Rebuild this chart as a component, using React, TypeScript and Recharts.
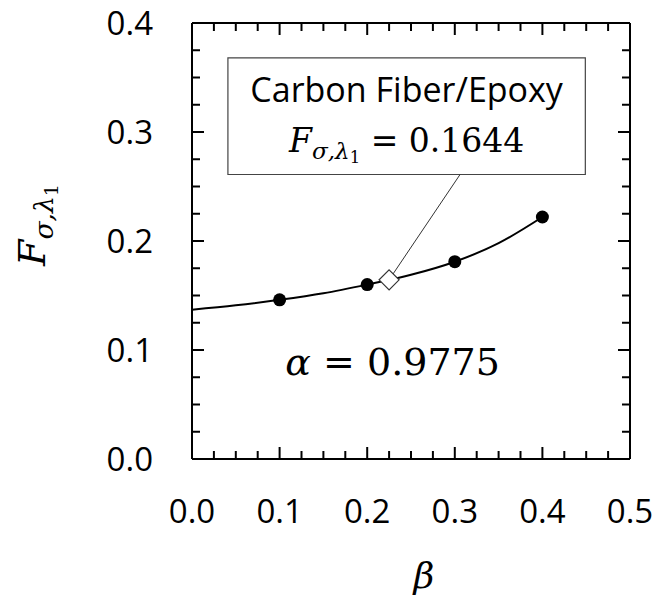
import React from 'react'
import {
  ComposedChart,
  Line,
  Scatter,
  XAxis,
  YAxis,
  ReferenceArea,
  ReferenceLine,
  ReferenceDot,
} from 'recharts'

// fitted curve
const fitBeta = [0, 0.05, 0.1, 0.15, 0.2, 0.25, 0.3, 0.35, 0.4]
const fitF = [0.137, 0.141, 0.146, 0.152, 0.16, 0.169, 0.181, 0.198, 0.222]

// computed points (filled dots)
const pointBeta = [0.1, 0.2, 0.3, 0.4]
const pointF = [0.146, 0.16, 0.181, 0.222]

// carbon fiber / epoxy marker
const markerBeta = [0.225]
const markerF = [0.1644]

const xTicks = [
  0, 0.025, 0.05, 0.075, 0.1, 0.125, 0.15, 0.175, 0.2, 0.225, 0.25,
  0.275, 0.3, 0.325, 0.35, 0.375, 0.4, 0.425, 0.45, 0.475, 0.5,
]
const yTicks = [
  0, 0.025, 0.05, 0.075, 0.1, 0.125, 0.15, 0.175, 0.2, 0.225, 0.25,
  0.275, 0.3, 0.325, 0.35, 0.375, 0.4,
]

const fitData = fitBeta.map((b, i) => ({ beta: b, f: fitF[i] }))
const pointData = pointBeta.map((b, i) => ({ beta: b, f: pointF[i] }))
const markerData = markerBeta.map((b, i) => ({ beta: b, f: markerF[i] }))

const SANS = '"Open Sans", sans-serif'
const SERIF = '"DejaVu Serif", serif'
const MAJOR = 12
const MINOR = 8

const isMajor = (v: number) => Math.abs(v * 10 - Math.round(v * 10)) < 1e-6

const BottomTick = (props: any) => {
  const { x, y, payload } = props
  const major = isMajor(payload.value)
  return (
    <g>
      <line x1={x} x2={x} y1={y} y2={y - (major ? MAJOR : MINOR)} stroke="#000" strokeWidth={2} />
      {major && (
        <text x={x} y={y + 64} textAnchor="middle" fontFamily={SANS} fontSize={33} fill="#000">
          {payload.value.toFixed(1)}
        </text>
      )}
    </g>
  )
}

const TopTick = (props: any) => {
  const { x, y, payload } = props
  const major = isMajor(payload.value)
  return <line x1={x} x2={x} y1={y} y2={y + (major ? MAJOR : MINOR)} stroke="#000" strokeWidth={2} />
}

const LeftTick = (props: any) => {
  const { x, y, payload } = props
  const major = isMajor(payload.value)
  return (
    <g>
      <line x1={x} x2={x + (major ? MAJOR : MINOR)} y1={y} y2={y} stroke="#000" strokeWidth={2} />
      {major && (
        <text x={x - 39} y={y + 12} textAnchor="end" fontFamily={SANS} fontSize={33} fill="#000">
          {payload.value.toFixed(1)}
        </text>
      )}
    </g>
  )
}

const RightTick = (props: any) => {
  const { x, y, payload } = props
  const major = isMajor(payload.value)
  return <line x1={x} x2={x - (major ? MAJOR : MINOR)} y1={y} y2={y} stroke="#000" strokeWidth={2} />
}

const Dot = (p: any) => <circle cx={p.cx} cy={p.cy} r={6.5} fill="#000" />
const NoShape = () => <g />

const Diamond = (p: any) => {
  const s = 10
  return (
    <polygon
      points={`${p.cx},${p.cy - s} ${p.cx + s},${p.cy} ${p.cx},${p.cy + s} ${p.cx - s},${p.cy}`}
      fill="#fff"
      stroke="#333"
      strokeWidth={1.2}
    />
  )
}

// F_{σ,λ1} written with tspans
const FSub = ({ size }: { size: number }) => (
  <>
    <tspan fontStyle="italic">F</tspan>
    <tspan fontStyle="italic" fontSize={size * 0.7} dy={size * 0.22}>σ,λ</tspan>
    <tspan fontSize={size * 0.5} dy={size * 0.12}>1</tspan>
  </>
)

const BoxLabel = (props: any) => {
  const { x, y, width } = props.viewBox
  const cx = x + width / 2
  return (
    <g>
      <text x={cx} y={y + 44} textAnchor="middle" fontFamily={SANS} fontSize={34} fill="#000">
        Carbon Fiber/Epoxy
      </text>
      <text x={cx} y={y + 94} textAnchor="middle" fontFamily={SERIF} fontSize={33} fill="#000">
        <FSub size={33} />
        <tspan dy={-33 * 0.34} fontSize={33}>{'   = 0.1644'}</tspan>
      </text>
    </g>
  )
}

const AlphaLabel = (props: any) => {
  const { x, y } = props.viewBox
  return (
    <text x={x} y={y} textAnchor="middle" fontFamily={SERIF} fontSize={38} fill="#000">
      <tspan fontStyle="italic">α</tspan>
      <tspan>{' = 0.9775'}</tspan>
    </text>
  )
}

const YLabel = (props: any) => {
  const { y, height } = props.viewBox
  const cx = 45
  const cy = y + height / 2 - 16
  return (
    <text
      x={cx}
      y={cy}
      transform={`rotate(-90, ${cx}, ${cy})`}
      textAnchor="middle"
      fontFamily={SERIF}
      fontSize={38}
      fill="#000"
    >
      <FSub size={38} />
    </text>
  )
}

const XLabel = (props: any) => {
  const { x, y, width } = props.viewBox
  return (
    <text x={x + width / 2 + 13} y={y + 129} textAnchor="middle" fontFamily={SERIF} fontStyle="italic" fontSize={36} fill="#000">
      β
    </text>
  )
}

export default function App() {
  return (
    <div style={{ position: 'absolute', left: 0, top: 0, background: '#fff' }}>
      <ComposedChart width={668} height={601} margin={{ top: 0, right: 0, bottom: 0, left: 0 }}>
        <XAxis
          dataKey="beta"
          type="number"
          domain={[0, 0.5]}
          ticks={xTicks}
          interval={0}
          height={142}
          tickSize={0}
          tickMargin={0}
          tick={<BottomTick />}
          axisLine={{ stroke: '#000', strokeWidth: 2 }}
          label={<XLabel />}
          allowDataOverflow
        />
        <XAxis
          xAxisId="top"
          dataKey="beta"
          orientation="top"
          type="number"
          domain={[0, 0.5]}
          ticks={xTicks}
          interval={0}
          height={23}
          tickSize={0}
          tickMargin={0}
          tick={<TopTick />}
          axisLine={{ stroke: '#000', strokeWidth: 2 }}
          allowDataOverflow
        />
        <YAxis
          type="number"
          domain={[0, 0.4]}
          ticks={yTicks}
          interval={0}
          width={192}
          tickSize={0}
          tickMargin={0}
          tick={<LeftTick />}
          axisLine={{ stroke: '#000', strokeWidth: 2 }}
          label={<YLabel />}
          allowDataOverflow
        />
        <YAxis
          yAxisId="right"
          orientation="right"
          type="number"
          domain={[0, 0.4]}
          ticks={yTicks}
          interval={0}
          width={38}
          tickSize={0}
          tickMargin={0}
          tick={<RightTick />}
          axisLine={{ stroke: '#000', strokeWidth: 2 }}
          allowDataOverflow
        />
        <ReferenceArea
          x1={0.041}
          x2={0.449}
          y1={0.261}
          y2={0.368}
          fill="#fff"
          fillOpacity={1}
          stroke="#444"
          strokeWidth={1.2}
          label={<BoxLabel />}
        />
        <ReferenceLine
          segment={[
            { x: markerBeta[0], y: markerF[0] },
            { x: 0.306, y: 0.261 },
          ]}
          stroke="#333"
          strokeWidth={1}
        />
        <ReferenceDot x={0.229} y={0.077} r={0} fill="none" stroke="none" label={<AlphaLabel />} />
        <Line
          data={fitData}
          dataKey="f"
          type="monotone"
          stroke="#000"
          strokeWidth={2}
          dot={false}
          isAnimationActive={false}
        />
        {/* invisible series so the mirrored top/right axes get their scales */}
        <Scatter
          data={pointData}
          dataKey="f"
          xAxisId="top"
          yAxisId="right"
          shape={<NoShape />}
          isAnimationActive={false}
        />
        <Scatter data={pointData} dataKey="f" shape={<Dot />} isAnimationActive={false} />
        <Scatter data={markerData} dataKey="f" shape={<Diamond />} isAnimationActive={false} />
      </ComposedChart>
    </div>
  )
}
